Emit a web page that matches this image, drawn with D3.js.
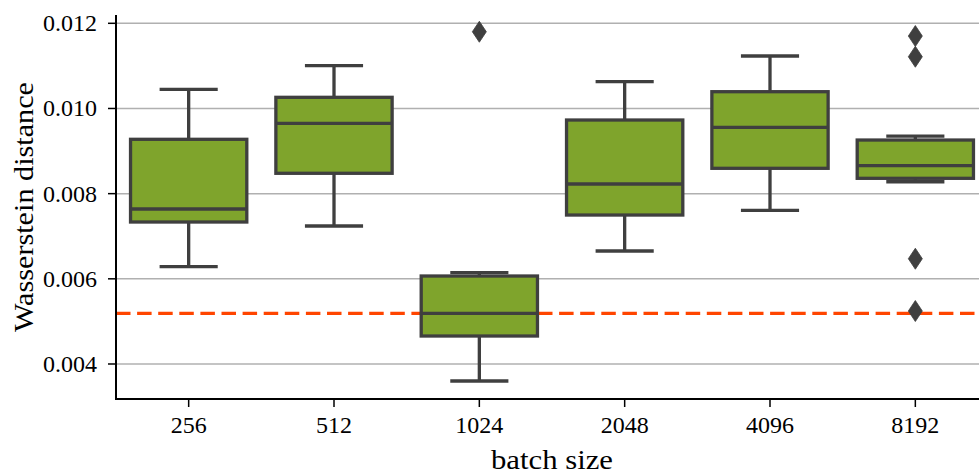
<!DOCTYPE html>
<html>
<head>
<meta charset="utf-8">
<script src="https://cdn.jsdelivr.net/npm/d3@7/dist/d3.min.js"></script>
<style>
  html, body { margin: 0; padding: 0; background: #fff; }
  svg { display: block; }
  text { font-family: "Liberation Serif", "DejaVu Serif", serif; fill: #000; }
</style>
</head>
<body>
<svg id="chart" width="979" height="474"></svg>
<script>
// ---- data ----
const categories = ["256", "512", "1024", "2048", "4096", "8192"];
const whiskerLow  = [0.006285, 0.00724, 0.003601, 0.006653, 0.007609, 0.00828];
const q1          = [0.007334, 0.008478, 0.004657, 0.007498, 0.008595, 0.00836];
const median      = [0.007639, 0.009652, 0.00519, 0.008226, 0.009558, 0.008656];
const q3          = [0.009276, 0.010262, 0.006066, 0.009729, 0.010394, 0.009259];
const whiskerHigh = [0.01045, 0.011004, 0.006144, 0.010629, 0.011232, 0.009353];
const outliers    = [[], [], [0.011802], [], [], [0.011701, 0.011215, 0.006472, 0.005244]];
const yTicks = [0.004, 0.006, 0.008, 0.010, 0.012];
const yTickLabels = ["0.004", "0.006", "0.008", "0.010", "0.012"];
const referenceValue = 0.00519;
const xLabel = "batch size";
const yLabel = "Wasserstein distance";

// ---- layout ----
const plotLeft = 116, plotRight = 988, plotTop = 15, plotBottom = 399;
const svg = d3.select("#chart");

const x = d3.scaleBand().domain(categories).range([plotLeft, plotRight]).padding(0);
const y = d3.scaleLinear().domain([0.003178, 0.012195]).range([plotBottom, plotTop]);

const edge = "#3f3f3f";
const fill = "rgb(127,164,44)";
const lw = 3.3;

// grid
svg.append("g").selectAll("line").data(yTicks).join("line")
  .attr("x1", plotLeft).attr("x2", plotRight)
  .attr("y1", d => y(d)).attr("y2", d => y(d))
  .attr("stroke", "#b0b0b0").attr("stroke-width", 1.5);

// reference dashed line
svg.append("line")
  .attr("x1", plotLeft).attr("x2", plotRight)
  .attr("y1", y(referenceValue)).attr("y2", y(referenceValue))
  .attr("stroke", "#ff4500").attr("stroke-width", 3.3)
  .attr("stroke-dasharray", "14.5,6.6");

// boxes
const boxW = x.bandwidth() * 0.8;
const capW = boxW * 0.5;
const boxes = svg.append("g");
categories.forEach((c, i) => {
  const cx = x(c) + x.bandwidth() / 2;
  const g = boxes.append("g");
  g.append("line").attr("x1", cx).attr("x2", cx)
    .attr("y1", y(q3[i])).attr("y2", y(whiskerHigh[i]))
    .attr("stroke", edge).attr("stroke-width", lw);
  g.append("line").attr("x1", cx).attr("x2", cx)
    .attr("y1", y(q1[i])).attr("y2", y(whiskerLow[i]))
    .attr("stroke", edge).attr("stroke-width", lw);
  [whiskerHigh[i], whiskerLow[i]].forEach(v => {
    g.append("line").attr("x1", cx - capW / 2).attr("x2", cx + capW / 2)
      .attr("y1", y(v)).attr("y2", y(v))
      .attr("stroke", edge).attr("stroke-width", lw);
  });
  g.append("rect")
    .attr("x", cx - boxW / 2).attr("width", boxW)
    .attr("y", y(q3[i])).attr("height", y(q1[i]) - y(q3[i]))
    .attr("fill", fill).attr("stroke", edge).attr("stroke-width", lw);
  g.append("line").attr("x1", cx - boxW / 2).attr("x2", cx + boxW / 2)
    .attr("y1", y(median[i])).attr("y2", y(median[i]))
    .attr("stroke", edge).attr("stroke-width", lw);
  outliers[i].forEach(v => {
    const cy = y(v);
    g.append("path")
      .attr("d", `M${cx},${cy - 10.5} L${cx + 7},${cy} L${cx},${cy + 10.5} L${cx - 7},${cy} Z`)
      .attr("fill", edge).attr("stroke", edge).attr("stroke-width", 0.8);
  });
});

// axes spines
svg.append("line").attr("x1", plotLeft).attr("x2", plotLeft).attr("y1", plotTop).attr("y2", plotBottom)
  .attr("stroke", "#000").attr("stroke-width", 2);
svg.append("line").attr("x1", plotLeft - 1).attr("x2", plotRight).attr("y1", plotBottom).attr("y2", plotBottom)
  .attr("stroke", "#000").attr("stroke-width", 2);

// y ticks
const yt = svg.append("g");
yTicks.forEach((t, i) => {
  yt.append("line").attr("x1", plotLeft - 8).attr("x2", plotLeft)
    .attr("y1", y(t)).attr("y2", y(t)).attr("stroke", "#000").attr("stroke-width", 1.5);
  yt.append("text").attr("x", 97).attr("y", y(t) + 8)
    .attr("text-anchor", "end").attr("font-size", 24)
    .attr("font-family", "Liberation Serif, serif").text(yTickLabels[i]);
});

// x ticks
const xt = svg.append("g");
categories.forEach(c => {
  const cx = x(c) + x.bandwidth() / 2;
  xt.append("line").attr("x1", cx).attr("x2", cx)
    .attr("y1", plotBottom).attr("y2", plotBottom + 8).attr("stroke", "#000").attr("stroke-width", 1.5);
  xt.append("text").attr("x", cx).attr("y", 433)
    .attr("text-anchor", "middle").attr("font-size", 24)
    .attr("font-family", "Liberation Serif, serif").text(c);
});

// axis labels
svg.append("text").attr("x", (plotLeft + plotRight) / 2).attr("y", 469)
  .attr("text-anchor", "middle").attr("font-size", 27)
  .attr("textLength", 122).attr("lengthAdjust", "spacingAndGlyphs")
  .text(xLabel);
svg.append("text")
  .attr("transform", `translate(33,${(plotTop + plotBottom) / 2}) rotate(-90)`)
  .attr("text-anchor", "middle").attr("font-size", 27)
  .attr("textLength", 250).attr("lengthAdjust", "spacingAndGlyphs")
  .text(yLabel);
</script>
</body>
</html>
